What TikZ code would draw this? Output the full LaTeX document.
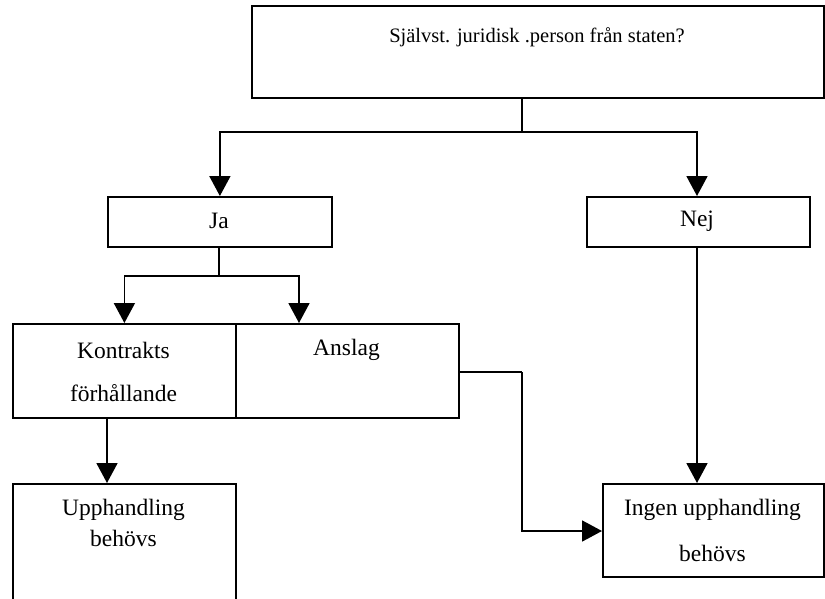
\documentclass[tikz,border=0pt]{standalone}
\usepackage{fontspec}
\setmainfont{Liberation Serif}
\usetikzlibrary{arrows.meta}
\begin{document}
\begin{tikzpicture}[x=1pt,y=-1pt,
  box/.style={draw, line width=1.8pt, rectangle, inner sep=0pt, anchor=north west},
  txt/.style={font=\fontsize{23.5}{28}\selectfont, inner sep=0pt},
  toptxt/.style={font=\fontsize{20.5}{24}\selectfont, inner sep=0pt},
  conn/.style={line width=1.8pt},
  arr/.style={line width=1.8pt, -{Triangle[length=20pt,width=21pt]}}]
\useasboundingbox (0,0) rectangle (825,598);
% boxes
\node[box, minimum width=572pt, minimum height=92pt] (top) at (251,5) {};
\node[box, minimum width=224pt, minimum height=50pt] (ja) at (107,196) {};
\node[box, minimum width=223pt, minimum height=50pt] (nej) at (586,196) {};
\node[box, minimum width=223pt, minimum height=94pt] (kon) at (12,323) {};
\node[box, minimum width=223pt, minimum height=94pt] (ans) at (235,323) {};
\node[box, minimum width=223pt, minimum height=122pt] (upp) at (12,483) {};
\node[box, minimum width=221pt, minimum height=93pt] (ing) at (602,483) {};
% texts
\node[toptxt] (t0) at (537,37) {Självst. juridisk .person från staten?};
\node[txt] (t1) at (219,221) {Ja};
\node[txt] (t2) at (697,221) {Nej};
\node[txt] (t3) at (123.5,350) {Kontrakts};
\node[txt] (t4) at (123.5,393) {förhållande};
\node[txt] (t5) at (346.5,350) {Anslag};
\node[txt] (t6) at (123.5,510) {Upphandling};
\node[txt] (t7) at (123.5,538) {behövs};
\node[txt] (t8) at (712.5,510) {Ingen upphandling};
\node[txt] (t9) at (712.5,553) {behövs};
% connectors
\coordinate (j1) at (522,132);
\coordinate (j2) at (219,276);
\coordinate (j3) at (522,372);
\draw[conn] (top.south -| j1) -- (j1);
\draw[arr] (j1) -| (ja.north);
\draw[arr] (j1) -| (nej.north -| 697,0);
\draw[conn] (ja.south -| j2) -- (j2);
\draw[arr] (j2) -| (kon.north);
\draw[arr] (j2) -| (ans.north -| 299,0);
\draw[arr] (kon.south -| 107,0) -- (upp.north -| 107,0);
\draw[conn] (ans.east |- j3) -- (j3);
\draw[arr] (j3) |- (ing.west |- 0,531);
\draw[arr] (nej.south -| 697,0) -- (ing.north -| 697,0);
\end{tikzpicture}
\end{document}
